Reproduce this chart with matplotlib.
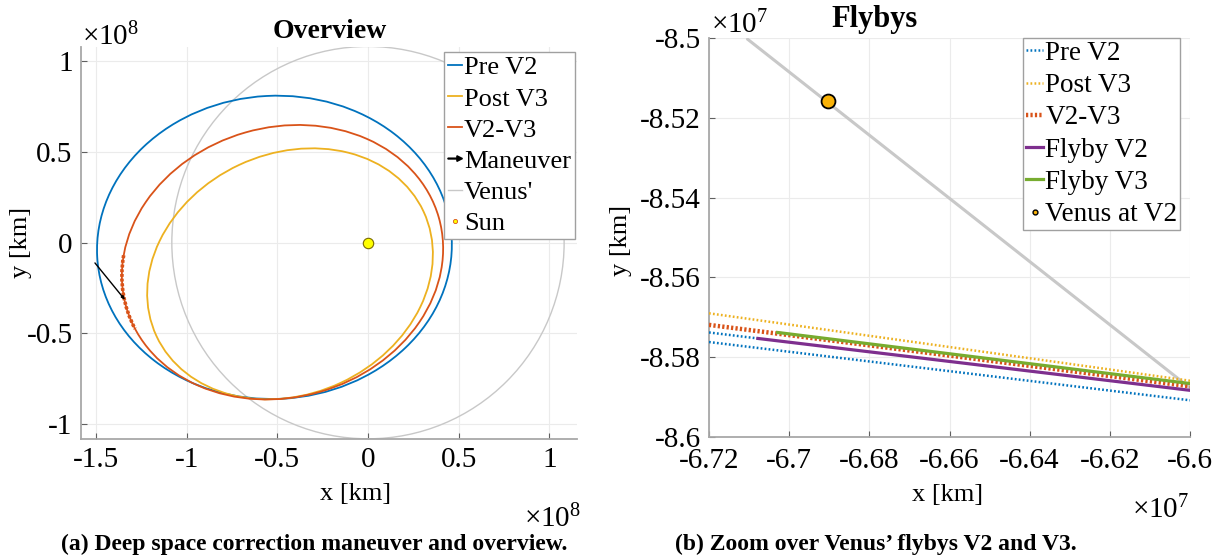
import matplotlib
matplotlib.use("Agg")
import matplotlib.pyplot as plt
import matplotlib.patches as mpatches
from matplotlib.legend_handler import HandlerPatch
from matplotlib.lines import Line2D
from matplotlib.ticker import FuncFormatter, MultipleLocator

plt.rcParams['font.family'] = ['Liberation Serif', 'DejaVu Serif']
plt.rcParams['mathtext.fontset'] = 'custom'
plt.rcParams['mathtext.rm'] = 'Liberation Serif'
plt.rcParams['mathtext.it'] = 'Liberation Serif:italic'

# ---------------- data (km) ----------------
# Overview: orbit ellipses (center x, center y, full width, full height, tilt deg)
orbit_labels = ['Pre V2', 'Post V3', 'V2-V3']
orbit_cx = [-0.516e8, -0.430e8, -0.4715e8]
orbit_cy = [-0.026e8, -0.172e8, -0.108e8]
orbit_w = [1.958e8, 1.6254e8, 1.7934e8]
orbit_h = [1.672e8, 1.326e8, 1.4886e8]
orbit_angle = [3.0, 25.0, 16.0]
# thick part of the V2-V3 arc near the maneuver (angles on the ellipse)
v2v3_arc_theta = [161.5, 188.3]
venus_radius = 1.082e8
sun_xy = [0.0, 0.0]
maneuver_start = [-1.506e8, -0.112e8]
maneuver_end = [-1.340e8, -0.316e8]

# Flybys zoom: straight segments (x0, y0, x1, y1)
pre_v2_a = [-6.72e7, -8.5738e7, -6.7078e7, -8.5753e7]
pre_v2_b = [-6.72e7, -8.5762e7, -6.60e7, -8.5908e7]
post_v3 = [-6.72e7, -8.5690e7, -6.60e7, -8.5859e7]
v2_v3 = [-6.72e7, -8.5719e7, -6.60e7, -8.5873e7]
flyby_v2 = [-6.7078e7, -8.5753e7, -6.60e7, -8.5883e7]
flyby_v3 = [-6.7029e7, -8.5738e7, -6.60e7, -8.5866e7]
venus_track_x = [-6.7105e7, -6.60e7]
venus_track_y1 = [-8.5000e7, -8.5875e7]
venus_track_y2 = [-8.5004e7, -8.5879e7]
venus_v2_xy = [-6.6904e7, -8.5159e7]

# ---------------- style ----------------
C_BLUE = '#0072BD'
C_RED = '#D95319'
C_YEL = '#EDB120'
C_PUR = '#7E2F8E'
C_GRN = '#77AC30'
C_GRAY = '#c8c8c8'
orbit_colors = [C_BLUE, C_YEL, C_RED]

W, H = 1220, 558
fig = plt.figure(figsize=(W / 100, H / 100), dpi=100)


def px_axes(l, r, t, b):
    return fig.add_axes([l / W, 1 - b / H, (r - l) / W, (b - t) / H])


ax1 = px_axes(81, 577, 47, 439)
ax2 = px_axes(709, 1190, 38, 437)

TICK_FS = 21
LAB_FS = 19


def style_axes(ax):
    for s in ['top', 'right']:
        ax.spines[s].set_visible(False)
    for s in ['left', 'bottom']:
        ax.spines[s].set_color('#a8a8a8')
        ax.spines[s].set_linewidth(1.3)
    ax.tick_params(direction='in', length=4, width=0.8, color='#606060',
                   labelsize=TICK_FS, labelcolor='black', pad=6)
    ax.grid(True, color='#ebebeb', linewidth=0.8)
    ax.set_axisbelow(True)


def fmt(scale):
    def f(v, p):
        s = round(v / scale, 6) + 0.0
        return '{:g}'.format(s)
    return FuncFormatter(f)


# ---------------- left: overview ----------------
style_axes(ax1)
handles1 = []
for lab, cx, cy, w, h, a, c in zip(orbit_labels, orbit_cx, orbit_cy, orbit_w,
                                   orbit_h, orbit_angle, orbit_colors):
    e = mpatches.Ellipse((cx, cy), w, h, angle=a, fill=False, edgecolor=c,
                         linewidth=1.3, zorder=3)
    ax1.add_patch(e)
    handles1.append(Line2D([], [], color=c, lw=1.3, label=lab))
i_red = orbit_labels.index('V2-V3')
arc = mpatches.Arc((orbit_cx[i_red], orbit_cy[i_red]), orbit_w[i_red], orbit_h[i_red],
                   angle=orbit_angle[i_red], theta1=v2v3_arc_theta[0],
                   theta2=v2v3_arc_theta[1], edgecolor=C_RED, linewidth=2.6,
                   linestyle=(0, (0.8, 0.5)), zorder=3)
ax1.add_patch(arc)

arrow = mpatches.FancyArrowPatch(tuple(maneuver_start), tuple(maneuver_end),
                                 arrowstyle='-|>,head_length=2,head_width=0.8',
                                 color='black', lw=1.0, shrinkA=0, shrinkB=0,
                                 mutation_scale=1, zorder=4)
ax1.add_patch(arrow)
venus = mpatches.Circle((0, 0), venus_radius, fill=False, edgecolor=C_GRAY,
                        linewidth=1.0, zorder=2)
ax1.add_patch(venus)
ax1.plot([sun_xy[0]], [sun_xy[1]], 'o', ms=7.5, mfc='#FFFF00', mec='#7a6a00',
         mew=0.8, zorder=5)

ax1.set_xlim(-1.583e8, 1.153e8)
ax1.set_ylim(-1.083e8, 1.079e8)
ax1.xaxis.set_major_locator(MultipleLocator(0.5e8))
ax1.yaxis.set_major_locator(MultipleLocator(0.5e8))
ax1.xaxis.set_major_formatter(fmt(1e8))
ax1.yaxis.set_major_formatter(fmt(1e8))


def make_arrow(legend, orig_handle, xdescent, ydescent, width, height, fontsize):
    return mpatches.FancyArrow(-xdescent, height / 2 - ydescent, width, 0,
                               width=0.6, head_width=4, head_length=4,
                               length_includes_head=True, color='black')


arrow_proxy = mpatches.FancyArrow(0, 0, 1, 0, color='black', label='Maneuver')
venus_proxy = Line2D([], [], color=C_GRAY, lw=1.0, label="Venus'")
sun_proxy = Line2D([], [], ls='none', marker='o', ms=3, mfc='#FFFF00', mec='#D95319',
                   mew=0.6, label='Sun')
leg1 = ax1.legend(handles=handles1 + [arrow_proxy, venus_proxy, sun_proxy],
                  handler_map={mpatches.FancyArrow: HandlerPatch(patch_func=make_arrow)},
                  loc='upper left', bbox_to_anchor=(444 / W, 1 - 52 / H),
                  bbox_transform=fig.transFigure, fontsize=19, frameon=True,
                  fancybox=False, edgecolor='#a0a0a0', framealpha=1,
                  handlelength=0.55, handletextpad=0.06, labelspacing=0.29,
                  borderpad=0.15, borderaxespad=0)
leg1.get_frame().set_linewidth(1.0)

# ---------------- right: flybys ----------------
style_axes(ax2)
ax2.tick_params(axis='x', pad=8)
ax2.plot(venus_track_x, venus_track_y1, color=C_GRAY, lw=1.3, zorder=2)
ax2.plot(venus_track_x, venus_track_y2, color=C_GRAY, lw=1.3, zorder=2)
dot = (0, (0.7, 0.9))
l_pre, = ax2.plot([pre_v2_b[0], pre_v2_b[2]], [pre_v2_b[1], pre_v2_b[3]], color=C_BLUE,
                  lw=1.8, ls=dot, label='Pre V2', zorder=3)
ax2.plot([pre_v2_a[0], pre_v2_a[2]], [pre_v2_a[1], pre_v2_a[3]], color=C_BLUE,
         lw=1.8, ls=dot, zorder=3)
l_post, = ax2.plot([post_v3[0], post_v3[2]], [post_v3[1], post_v3[3]], color=C_YEL,
                   lw=1.8, ls=dot, label='Post V3', zorder=3)
l_v23, = ax2.plot([v2_v3[0], v2_v3[2]], [v2_v3[1], v2_v3[3]], color=C_RED,
                  lw=3.2, ls=(0, (0.5, 0.5)), label='V2-V3', zorder=3)
l_f2, = ax2.plot([flyby_v2[0], flyby_v2[2]], [flyby_v2[1], flyby_v2[3]], color=C_PUR,
                 lw=2.3, label='Flyby V2', zorder=4)
l_f3, = ax2.plot([flyby_v3[0], flyby_v3[2]], [flyby_v3[1], flyby_v3[3]], color=C_GRN,
                 lw=2.3, label='Flyby V3', zorder=4)
ax2.plot([venus_v2_xy[0]], [venus_v2_xy[1]], 'o', ms=10, mfc='#F9B208', mec='black',
         mew=1.3, zorder=6)
v_proxy = Line2D([], [], ls='none', marker='o', ms=3.5, mfc='#F9B208', mec='black',
                 mew=1.0, label='Venus at V2')

ax2.set_xlim(-6.72e7, -6.60e7)
ax2.set_ylim(-8.60e7, -8.50e7)
ax2.xaxis.set_major_locator(MultipleLocator(0.02e7))
ax2.yaxis.set_major_locator(MultipleLocator(0.02e7))
ax2.xaxis.set_major_formatter(fmt(1e7))
ax2.yaxis.set_major_formatter(fmt(1e7))

leg2 = ax2.legend(handles=[l_pre, l_post, l_v23, l_f2, l_f3, v_proxy],
                  loc='upper left', bbox_to_anchor=(1023 / W, 1 - 38 / H),
                  bbox_transform=fig.transFigure, fontsize=19.5, frameon=True,
                  fancybox=False, edgecolor='#a0a0a0', framealpha=1,
                  handlelength=0.65, handletextpad=0.08, labelspacing=0.27,
                  borderpad=0.1, borderaxespad=0)
leg2.get_frame().set_linewidth(1.0)

# ---------------- texts ----------------
fig.text(330 / W, 1 - 31 / H, 'Overview', ha='center', va='center', fontsize=20,
         fontweight='bold')
fig.text(875 / W, 1 - 20 / H, 'Flybys', ha='center', va='center', fontsize=22,
         fontweight='bold')
fig.text(356 / W, 1 - 494 / H, 'x [km]', ha='center', va='center', fontsize=LAB_FS)
fig.text(21 / W, 1 - 242 / H, 'y [km]', ha='center', va='center', rotation=90,
         fontsize=LAB_FS)
fig.text(948 / W, 1 - 495 / H, 'x [km]', ha='center', va='center', fontsize=LAB_FS)
fig.text(621 / W, 1 - 240 / H, 'y [km]', ha='center', va='center', rotation=90,
         fontsize=LAB_FS)
fig.text(82 / W, 1 - 45 / H, r'$\times10^{8}$', ha='left', va='baseline', fontsize=TICK_FS)
fig.text(524 / W, 1 - 527 / H, r'$\times10^{8}$', ha='left', va='baseline', fontsize=TICK_FS)
fig.text(711 / W, 1 - 33 / H, r'$\times10^{7}$', ha='left', va='baseline', fontsize=TICK_FS)
fig.text(1132 / W, 1 - 518 / H, r'$\times10^{7}$', ha='left', va='baseline', fontsize=TICK_FS)
fig.text(314 / W, 1 - 544 / H, '(a) Deep space correction maneuver and overview.',
         ha='center', va='center', fontsize=17, fontweight='bold')
fig.text(876 / W, 1 - 544 / H, '(b) Zoom over Venus\u2019 flybys V2 and V3.',
         ha='center', va='center', fontsize=17, fontweight='bold')

fig.savefig('out.png', dpi=100)
